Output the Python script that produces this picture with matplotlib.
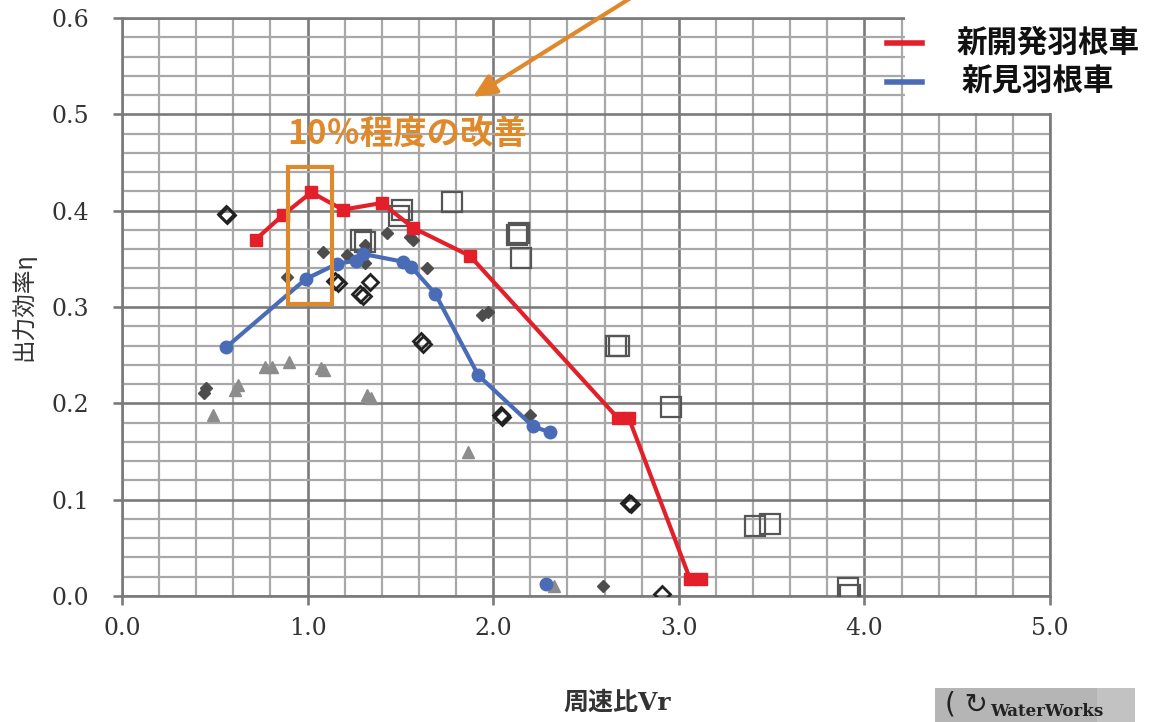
import numpy as np
import matplotlib
matplotlib.use("Agg")
import matplotlib.pyplot as plt
from matplotlib.patches import Rectangle
from matplotlib.lines import Line2D

JP = ["Noto Sans CJK JP", "DejaVu Sans"]

# new blade (red) and previous blade (blue)
new_vr = [0.72, 0.87, 1.02, 1.19, 1.40, 1.57, 1.875, 2.67, 2.73, 3.06, 3.12]
new_eta = [0.370, 0.396, 0.419, 0.401, 0.408, 0.382, 0.353, 0.185, 0.185, 0.018, 0.018]
old_vr = [0.56, 0.99, 1.16, 1.26, 1.30, 1.515, 1.557, 1.687, 1.92, 2.215, 2.305]
old_eta = [0.258, 0.329, 0.345, 0.348, 0.355, 0.347, 0.342, 0.314, 0.229, 0.176, 0.170]
old_extra_vr = [2.285]
old_extra_eta = [0.012]

# reference data from other runners
tri_vr = [0.49, 0.61, 0.625, 0.77, 0.81, 0.90, 1.07, 1.09, 1.32, 1.34, 1.865, 2.33]
tri_eta = [0.188, 0.214, 0.219, 0.238, 0.238, 0.243, 0.237, 0.235, 0.209, 0.206, 0.150, 0.010]
fdia_vr = [0.44, 0.45, 0.89, 1.085, 1.21, 1.31, 1.31, 1.43, 1.55, 1.57, 1.645, 1.94, 1.97, 2.20, 2.59]
fdia_eta = [0.211, 0.216, 0.331, 0.357, 0.354, 0.364, 0.346, 0.377, 0.373, 0.370, 0.341, 0.292, 0.295, 0.188, 0.010]
odia_vr = [0.56, 0.565, 1.15, 1.165, 1.335, 1.28, 1.30, 1.61, 1.62, 2.04, 2.05, 2.73, 2.745, 2.91]
odia_eta = [0.397, 0.395, 0.327, 0.325, 0.326, 0.314, 0.311, 0.265, 0.262, 0.188, 0.186, 0.097, 0.095, 0.002]
osq_vr = [1.29, 1.31, 1.49, 1.51, 1.78, 2.13, 2.14, 2.15, 2.66, 2.68, 2.96, 3.41, 3.49, 3.91, 3.92]
osq_eta = [0.370, 0.367, 0.394, 0.401, 0.409, 0.375, 0.377, 0.351, 0.259, 0.259, 0.196, 0.073, 0.075, 0.008, 0.001]

RED = "#E3202A"
BLUE = "#4A6CB6"
ORANGE = "#E0892B"

fig = plt.figure(figsize=(11.52, 7.22), dpi=100)
ax = fig.add_axes([122 / 1152, 1 - 596 / 722, 928 / 1152, 578 / 722])

ax.set_xlim(0, 5)
ax.set_ylim(0, 0.6)
ax.set_xticks(np.arange(0, 5.01, 1.0))
ax.set_xticks(np.arange(0, 5.01, 0.2), minor=True)
ax.set_yticks(np.arange(0, 0.601, 0.1))
ax.set_yticks(np.arange(0, 0.601, 0.02), minor=True)
ax.xaxis.set_major_formatter(matplotlib.ticker.FormatStrFormatter("%.1f"))
ax.yaxis.set_major_formatter(matplotlib.ticker.FormatStrFormatter("%.1f"))
ax.set_axisbelow(True)
ax.grid(which="minor", color="#a8a8a8", lw=1.6)
ax.grid(which="major", color="#7a7a7a", lw=1.9)
for s in ax.spines.values():
    s.set_color("#7a7a7a")
    s.set_linewidth(1.9)
ax.tick_params(which="minor", length=0)
ax.tick_params(which="major", length=6.5, width=1.9, color="#7a7a7a",
               labelsize=17, labelcolor="#333333")
ax.tick_params(axis="x", pad=8.5)
ax.tick_params(axis="y", pad=17)
for lab in ax.get_xticklabels() + ax.get_yticklabels():
    lab.set_fontfamily("DejaVu Serif")

# scattered comparison data
ax.plot(osq_vr, osq_eta, ls="none", marker="s", ms=14, mfc="none",
        mec="#555555", mew=1.6, zorder=3)
ax.plot(odia_vr, odia_eta, ls="none", marker="D", ms=8.5, mfc="none",
        mec="#222222", mew=2, zorder=3)
ax.plot(fdia_vr, fdia_eta, ls="none", marker="D", ms=6, color="#4d4d4d", zorder=3)
ax.plot(tri_vr, tri_eta, ls="none", marker="^", ms=8, color="#8c8c8c", zorder=3)

ax.plot(new_vr, new_eta, color=RED, lw=3, marker="s", ms=9, zorder=4)
ax.plot(old_vr, old_eta, color=BLUE, lw=3, marker="o", ms=9, zorder=4)
ax.plot(old_extra_vr, old_extra_eta, ls="none", marker="o", ms=9, color=BLUE, zorder=4)

# highlight box, note and arrow
ax.add_patch(Rectangle((0.893, 0.303), 0.239, 0.142, fill=False,
                       ec=ORANGE, lw=3, zorder=5))
ax.text(0.89, 0.479, "10％程度の改善", color=ORANGE, fontsize=24,
        fontweight="bold", family=JP, ha="left", va="center", zorder=5)
ax.annotate("", xy=(1.89, 0.518), xytext=(2.85, 0.634), annotation_clip=False,
            arrowprops=dict(arrowstyle="-|>,head_length=0.7,head_width=0.32",
                            color=ORANGE, lw=3, mutation_scale=20,
                            shrinkA=0, shrinkB=0), zorder=5)

# white legend area
fig.add_artist(Rectangle((905 / 1152, 1 - 113 / 722), 247 / 1152, 113 / 722,
                         transform=fig.transFigure, fc="white", ec="none", zorder=1))
fig.add_artist(Line2D([887 / 1152, 922 / 1152], [1 - 43 / 722] * 2,
                      transform=fig.transFigure, color=RED, lw=4, zorder=2))
fig.add_artist(Line2D([887 / 1152, 922 / 1152], [1 - 82 / 722] * 2,
                      transform=fig.transFigure, color=BLUE, lw=4, zorder=2))
fig.text(957 / 1152, 1 - 43 / 722, "新開発羽根車", family=JP, fontsize=22,
         fontweight="bold", color="#111111", va="center", ha="left", zorder=3)
fig.text(962 / 1152, 1 - 82 / 722, "新見羽根車", family=JP, fontsize=22,
         fontweight="bold", color="#111111", va="center", ha="left", zorder=3)

# axis titles
fig.text(23 / 1152, 1 - 307 / 722, "出力効率η", family=JP, fontsize=17,
         color="#333333", rotation=90, ha="center", va="center")
fig.text(617 / 1152, 1 - 703 / 722, "周速比Vr", family=["DejaVu Serif", "Noto Sans CJK JP"],
         fontsize=18, fontweight="bold", color="#333333", ha="center", va="center")

# logo strip in the corner
fig.add_artist(Rectangle((935 / 1152, 0), 200 / 1152, 34 / 722,
                         transform=fig.transFigure, fc="#b5b5b5", ec="none", zorder=1))
fig.add_artist(Rectangle((1097 / 1152, 0), 38 / 1152, 34 / 722,
                         transform=fig.transFigure, fc="#c2c2c2", ec="none", zorder=1))
fig.text(990 / 1152, 2 / 722, "WaterWorks", family="DejaVu Serif",
         fontsize=12, fontweight="bold", color="#222222", ha="left", va="bottom", zorder=2)
fig.text(945 / 1152, 1 - 690 / 722, "( ↻", family="DejaVu Sans",
         fontsize=20, color="#222222", ha="left", va="top", zorder=2)

fig.savefig("out.png", dpi=100, facecolor="white")
